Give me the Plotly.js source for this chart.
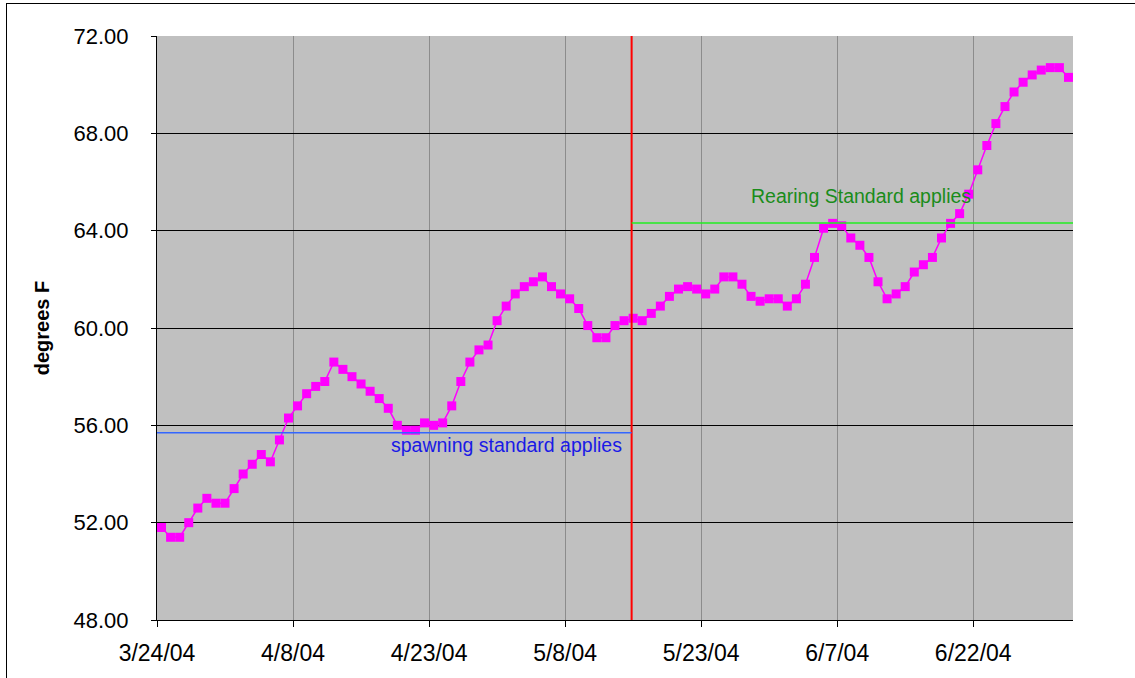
<!DOCTYPE html>
<html>
<head>
<meta charset="utf-8">
<script src="https://cdn.plot.ly/plotly-3.0.1.min.js"></script>
<style>
  html, body { margin: 0; padding: 0; background: #fff; overflow: hidden; }
  #frame { position: absolute; left: 6px; top: 3px; width: 1200px; height: 700px;
           border-left: 1px solid #000; border-top: 1px solid #000; pointer-events: none; }
  #chart { width: 1135px; height: 678px; }
</style>
</head>
<body>
<div id="chart"></div>
<div id="frame"></div>
<script>
// ---- data ----
const startDate = '2004-03-24';
const temps = [
  51.8, 51.4, 51.4, 52.0, 52.6, 53.0, 52.8, 52.8, 53.4, 54.0,
  54.4, 54.8, 54.5, 55.4, 56.3, 56.8, 57.3, 57.6, 57.8, 58.6,
  58.3, 58.0, 57.7, 57.4, 57.1, 56.7, 56.0, 55.8, 55.8, 56.1,
  56.0, 56.1, 56.8, 57.8, 58.6, 59.1, 59.3, 60.3, 60.9, 61.4,
  61.7, 61.9, 62.1, 61.7, 61.4, 61.2, 60.8, 60.1, 59.6, 59.6,
  60.1, 60.3, 60.4, 60.3, 60.6, 60.9, 61.3, 61.6, 61.7, 61.6,
  61.4, 61.6, 62.1, 62.1, 61.8, 61.3, 61.1, 61.2, 61.2, 60.9,
  61.2, 61.8, 62.9, 64.1, 64.3, 64.2, 63.7, 63.4, 62.9, 61.9,
  61.2, 61.4, 61.7, 62.3, 62.6, 62.9, 63.7, 64.3, 64.7, 65.5,
  66.5, 67.5, 68.4, 69.1, 69.7, 70.1, 70.4, 70.6, 70.7, 70.7,
  70.3
];
const spawningStandard = 55.7;
const rearingStandard = 64.32;
const standardChangeDate = '2004-05-15 08:00';
const axisStart = '2004-03-24';
const axisEnd = '2004-07-03';
const yTicks = [48, 52, 56, 60, 64, 68, 72];
const spawningLabel = 'spawning standard applies';
const rearingLabel = 'Rearing Standard applies';
const yTitle = 'degrees F';

// daily dates (one reading per day), plotted at mid-day as in the original
function pad(n) { return n < 10 ? '0' + n : '' + n; }
const dates = temps.map((_, i) => {
  const d = new Date(startDate + 'T00:00:00Z');
  d.setUTCDate(d.getUTCDate() + i);
  return d.getUTCFullYear() + '-' + pad(d.getUTCMonth() + 1) + '-' + pad(d.getUTCDate());
});
const xPlot = dates.map(d => d + ' 12:00');

const trace = {
  type: 'scatter',
  mode: 'lines+markers',
  x: xPlot,
  y: temps,
  line: { color: '#FF00FF', width: 1.5 },
  marker: { symbol: 'square', size: 9, color: '#FF00FF', line: { color: '#FF00FF', width: 0 } },
  hoverinfo: 'x+y',
  showlegend: false
};

const layout = {
  width: 1135,
  height: 678,
  margin: { l: 157, r: 62, t: 36, b: 58 },
  paper_bgcolor: '#FFFFFF',
  plot_bgcolor: '#C0C0C0',
  font: { family: 'Liberation Sans, Arial, sans-serif', color: '#000' },
  xaxis: {
    type: 'date',
    range: [axisStart, axisEnd],
    tickmode: 'linear',
    tick0: axisStart,
    dtick: 15 * 86400000,
    tickformat: '%-m/%-d/%y',
    showgrid: true,
    gridcolor: '#8C8C8C',
    gridwidth: 1,
    showline: true,
    linecolor: '#000',
    linewidth: 1,
    ticks: 'outside',
    ticklen: 6,
    tickcolor: '#000',
    ticklabelstandoff: 6,
    tickfont: { size: 23, color: '#000' },
    zeroline: false
  },
  yaxis: {
    range: [48, 72],
    tickmode: 'array',
    tickvals: yTicks,
    tickformat: '.2f',
    showgrid: true,
    gridcolor: '#000000',
    gridwidth: 1,
    showline: true,
    linecolor: '#000',
    linewidth: 1,
    ticks: 'outside',
    ticklen: 5,
    tickcolor: '#000',
    ticklabelstandoff: 18,
    tickfont: { size: 22, color: '#000' },
    zeroline: false,
    title: { text: yTitle, font: { size: 20, color: '#000', family: 'Liberation Sans, Arial, sans-serif', weight: 'bold' }, standoff: 18 }
  },
  shapes: [
    { type: 'line', xref: 'x', yref: 'paper', x0: standardChangeDate, x1: standardChangeDate, y0: 0, y1: 1,
      line: { color: '#FF0000', width: 2 } },
    { type: 'line', xref: 'x', yref: 'y', x0: axisStart, x1: standardChangeDate, y0: spawningStandard, y1: spawningStandard,
      line: { color: '#3366FF', width: 1.5 } },
    { type: 'line', xref: 'x', yref: 'y', x0: standardChangeDate, x1: axisEnd, y0: rearingStandard, y1: rearingStandard,
      line: { color: '#22EE22', width: 1.5 } }
  ],
  annotations: [
    { text: spawningLabel, xref: 'paper', yref: 'paper', x: 0.382, y: 0.2997, showarrow: false,
      xanchor: 'center', yanchor: 'middle', font: { size: 19.5, color: '#1A1AE6' } },
    { text: rearingLabel, xref: 'paper', yref: 'paper', x: 0.7686, y: 0.726, showarrow: false,
      xanchor: 'center', yanchor: 'middle', font: { size: 19.5, color: '#1A8C1A' } }
  ]
};

Plotly.newPlot('chart', [trace], layout, { displayModeBar: false, staticPlot: true });
</script>
</body>
</html>
